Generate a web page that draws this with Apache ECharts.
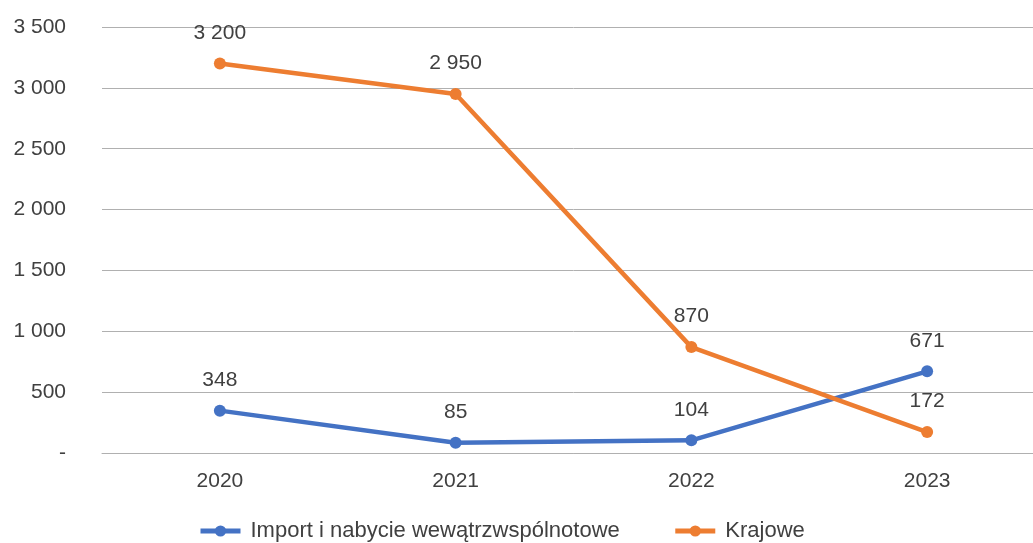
<!DOCTYPE html>
<html><head><meta charset="utf-8">
<script src="https://cdn.jsdelivr.net/npm/echarts@6/dist/echarts.min.js"></script>
<style>html,body{margin:0;padding:0;background:#fff;overflow:hidden}#c{width:1045px;height:543px}</style>
</head><body><div id="c"></div>
<script>
const categories = ['2020', '2021', '2022', '2023'];
const importValues = [348, 85, 104, 671];
const krajoweValues = [3200, 2950, 870, 172];
const seriesNames = ['Import i nabycie wewątrzwspólnotowe', 'Krajowe'];

function fmt(v) {
  if (v === 0) return '-';
  return String(v).replace(/\B(?=(\d{3})+(?!\d))/g, ' ');
}
const font = 'Liberation Sans, Arial, sans-serif';
const txt = '#404040';
const chart = echarts.init(document.getElementById('c'));
function mk(name, data, color) {
  return {
    name, type: 'line', data,
    symbol: 'circle', symbolSize: 12,
    lineStyle: { width: 4.5, color },
    itemStyle: { color },
    label: { show: true, position: 'top', distance: 14, formatter: p => fmt(p.value),
      fontFamily: font, fontSize: 21, color: txt },
    emphasis: { disabled: true }
  };
}
chart.setOption({
  animation: false,
  grid: { left: 102, right: 0, top: 27, bottom: 90 },
  xAxis: {
    type: 'category', data: categories, boundaryGap: true,
    axisLine: { show: true, lineStyle: { color: '#b0b0b0', width: 1 } },
    axisTick: { show: false },
    axisLabel: { margin: 18, fontFamily: font, fontSize: 21, color: txt }
  },
  yAxis: {
    type: 'value', min: 0, max: 3500, interval: 500,
    axisLine: { show: false }, axisTick: { show: false },
    splitLine: { lineStyle: { color: '#b0b0b0', width: 1 } },
    axisLabel: { margin: 36, fontFamily: font, fontSize: 21, color: txt, formatter: fmt }
  },
  legend: {
    top: 515, left: 193, itemWidth: 40, itemHeight: 14, itemGap: 53,
    lineStyle: { width: 5 },
    textStyle: { fontFamily: font, fontSize: 22, color: txt, padding: [0, 0, 0, 5] },
    data: seriesNames
  },
  series: [mk(seriesNames[0], importValues, '#4472C4'), mk(seriesNames[1], krajoweValues, '#ED7D31')]
});
</script></body></html>
